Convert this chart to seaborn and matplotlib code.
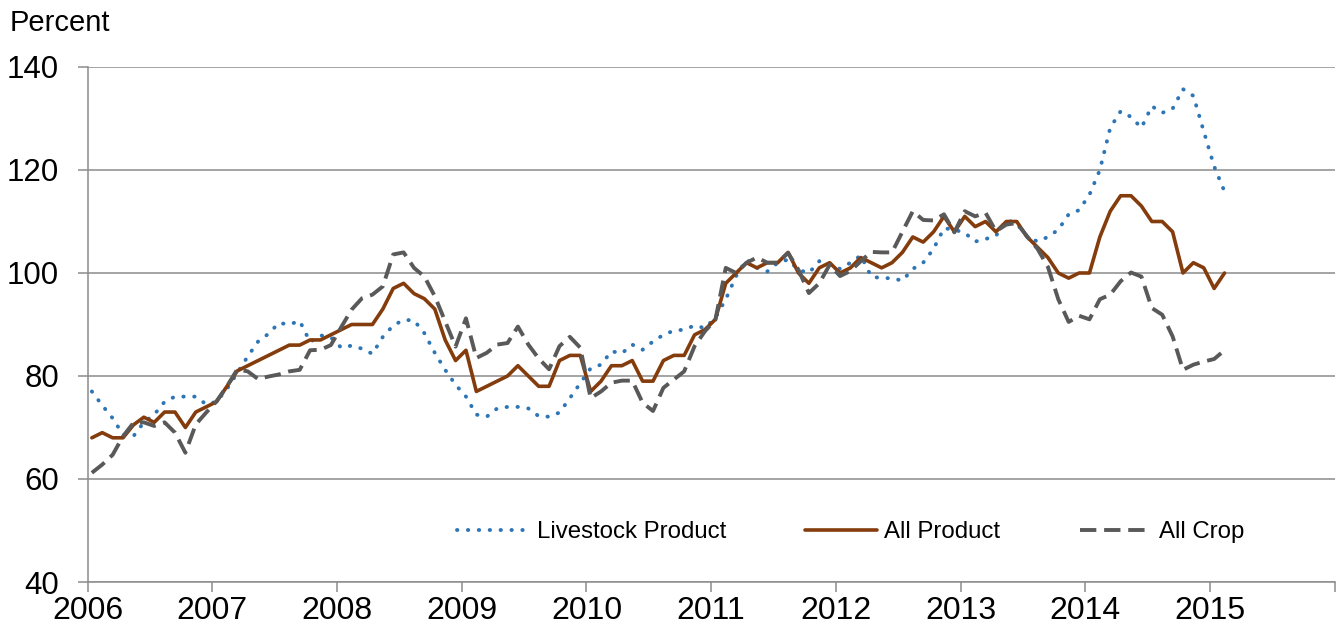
import numpy as np
import pandas as pd
import matplotlib
matplotlib.use("Agg")
import matplotlib.pyplot as plt
import seaborn as sns

# ---- data (monthly, Jan 2006 - Feb 2015), percent ----
livestock = [77, 74.3, 71.8, 68.6, 68.3, 71, 72.5, 75, 76, 76, 76, 74.5,
             75, 77.5, 80.6, 83.8, 86.7, 88.2, 90.3, 90, 90.7, 86.6, 87.9, 87.5,
             85.5, 85.9, 85.3, 84.3, 87.6, 89.8, 90.9, 90.8, 88.3, 84.5, 81.2, 78.3,
             76, 72.5, 72.1, 73.7, 74, 74, 73.7, 72.2, 72.1, 72.9, 75.7, 78.6,
             81.5, 82.2, 84.8, 84.4, 86.1, 85.1, 86.7, 88, 88.8, 89, 89.8, 89.3,
             91.3, 94.9, 99.4, 102.6, 101, 100.3, 102, 102.6, 100.6, 100, 102.3, 101.6,
             100.8, 102, 103.4, 99.3, 99, 99, 98.5, 100.8, 102, 104.7, 108.7, 108.4,
             107.8, 106.1, 106.6, 107.2, 110.3, 109.6, 107.1, 106.1, 107, 108.4, 111.4, 112.2,
             115.2, 120, 128.2, 131.4, 130.3, 128.2, 132.4, 131.1, 131.9, 135.7, 134.4, 127.5,
             120.7, 115.8]
all_product = [68, 69, 68, 68, 70.5, 72, 71, 73, 73, 70, 73, 74,
               75, 78, 81, 82, 83, 84, 85, 86, 86, 87, 87, 88,
               89, 90, 90, 90, 93, 97, 98, 96, 95, 93, 87, 83,
               85, 77, 78, 79, 80, 82, 80, 78, 78, 83, 84, 84,
               77, 79, 82, 82, 83, 79, 79, 83, 84, 84, 88, 89,
               91, 98, 100, 102, 101, 102, 102, 104, 100, 98, 101, 102,
               100, 101, 103, 102, 101, 102, 104, 107, 106, 108, 111, 108,
               111, 109, 110, 108, 110, 110, 107, 105, 103, 100, 99, 100,
               100, 107, 112, 115, 115, 113, 110, 110, 108, 100, 102, 101,
               97, 100]
all_crop = [61.2, 62.8, 64.7, 68.3, 70.9, 71, 70.3, 71, 69, 65.1, 70.6, 72.9,
            75.1, 78, 81.3, 80.9, 79.4, 79.9, 80.3, 80.9, 81.2, 85, 85.1, 86,
            89.5, 92.9, 95.1, 95.8, 97.4, 103.6, 104, 101, 99.3, 95.5, 90.6, 85.7,
            91.2, 83.5, 84.5, 86.1, 86.4, 89.6, 86.1, 83.4, 81.3, 85.8, 87.6, 85.5,
            75.7, 77, 78.7, 79.1, 79.1, 74.8, 73.2, 77.7, 79.3, 80.9, 85.8, 88.7,
            90.9, 101, 100, 102, 103, 102, 102, 103.9, 100.6, 96.1, 98, 101.6,
            99.4, 100.4, 102.3, 104.1, 104, 104, 108, 112, 110.3, 110.2, 111.4, 107.9,
            112, 111, 111.7, 108.1, 109.4, 109.7, 107.1, 104.7, 101.2, 94.9, 90.5, 91.7,
            91, 94.9, 95.8, 98.4, 100.1, 99.3, 93.2, 91.9, 87.7, 81.2, 82.2, 82.8,
            83.3, 85]
year_ticks = list(range(2006, 2017))
year_labels = [str(y) for y in range(2006, 2016)] + [""]
y_ticks = [40, 60, 80, 100, 120, 140]

n = len(all_product)
months = np.arange(n)
xpos = 2006 + (months + 0.4) / 12.0

df = pd.DataFrame({"x": xpos, "Livestock Product": livestock,
                   "All Product": all_product, "All Crop": all_crop})

sns.set_style("white")
plt.rcParams["font.family"] = ["Liberation Sans", "DejaVu Sans"]
plt.rcParams["text.color"] = "black"
plt.rcParams["xtick.labelcolor"] = "black"
plt.rcParams["ytick.labelcolor"] = "black"

fig = plt.figure(figsize=(13.36, 6.33), dpi=100)
ax = fig.add_axes([87.7 / 1336, 1 - 582 / 633, (1334.7 - 87.7) / 1336, (582 - 67) / 633])

blue = "#2E75B6"
brown = "#843C0C"
gray = "#595959"

sns.lineplot(data=df, x="x", y="Livestock Product", ax=ax, color=blue,
             linewidth=2.8, linestyle=(0, (0.1, 2.7)), dash_capstyle="round",
             label="Livestock Product")
sns.lineplot(data=df, x="x", y="All Product", ax=ax, color=brown,
             linewidth=2.6, label="All Product")
sns.lineplot(data=df, x="x", y="All Crop", ax=ax, color=gray,
             linewidth=2.8, linestyle=(0, (4.2, 2.0)), label="All Crop")

ax.set_xlim(2006, 2016)
ax.set_ylim(40, 140)
ax.set_xticks(year_ticks)
ax.set_xticklabels(year_labels)
ax.set_yticks(y_ticks)
ax.set_xlabel("")
ax.set_ylabel("")

gridc = "#8C8C8C"
ax.yaxis.grid(True, color=gridc, linewidth=1.1)
ax.xaxis.grid(False)
ax.set_axisbelow(True)
for s in ["top", "right"]:
    ax.spines[s].set_visible(False)
for s in ["left", "bottom"]:
    ax.spines[s].set_color(gridc)
    ax.spines[s].set_linewidth(1.1)

ax.tick_params(axis="x", direction="out", length=7, width=1.1, color=gridc,
               labelsize=23, pad=3, bottom=True, labelcolor="black")
ax.tick_params(axis="y", direction="out", length=7.5, width=1.1, color=gridc,
               labelsize=22.5, pad=13, left=True, labelcolor="black")

leg = ax.legend(loc="center", bbox_to_anchor=(0.612, 0.097), ncol=3,
                frameon=False, fontsize=17.3, handlelength=3.0,
                handletextpad=0.3, columnspacing=3.3)
for t in leg.get_texts():
    t.set_color("black")

fig.text(10 / 1336, 1 - 31 / 633, "Percent", fontsize=21, ha="left",
         va="baseline", color="black")

fig.savefig("out.png", dpi=100)
